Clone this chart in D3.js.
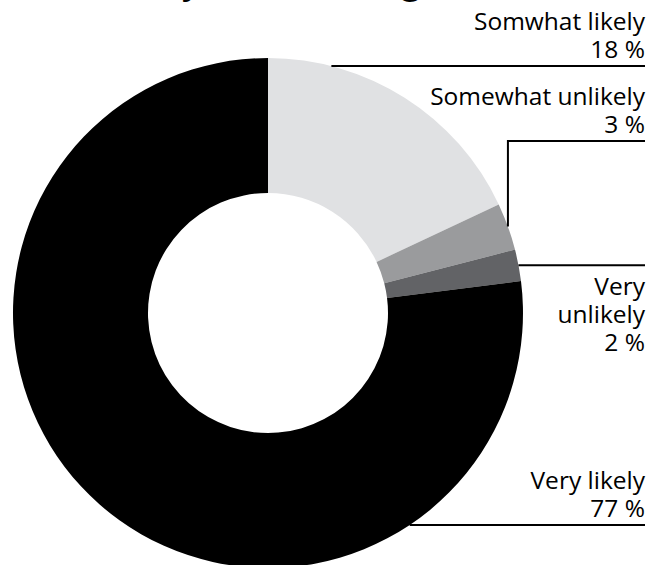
<!DOCTYPE html>
<html>
  <head>
    <title>Donut</title>
    <script src="https://d3js.org/d3.v7.min.js"></script>
    <style>
      body { margin: 0; background: #ffffff; }
      text { font-family: "Open Sans", "Noto Sans", sans-serif; fill: #000000; }
    </style>
  </head>
  <body>
    <svg width="665" height="565" id="mainsvg"></svg>
    <script>
        // data
        const categories = ['Somwhat likely', 'Somewhat unlikely', 'Very unlikely', 'Very likely'];
        const values = [18, 3, 2, 77];
        const labelLines = [['Somwhat likely', '18 %'], ['Somewhat unlikely', '3 %'], ['Very', 'unlikely', '2 %'], ['Very likely', '77 %']];
        const titleText = 'Survey on returning';

        // layout
        const svg = d3.select('#mainsvg');
        const cx = 268, cy = 313;
        const outerR = 255, innerR = 120;
        const labelRight = 645;
        const lineH = 28;
        const colors = ['#e0e1e3', '#9a9b9d', '#626366', '#000000'];
        // y of each leader line, mode of leader, text above or below it
        const leaders = [
            {y: 66, mode: 'arc', below: false},
            {y: 141, mode: 'elbow', below: false},
            {y: null, mode: 'arc', below: true},
            {y: 525, mode: 'arc', below: false}
        ];

        // title sits mostly above the top edge, only descenders show
        svg.append('text')
            .attr('x', 88)
            .attr('y', -7)
            .attr('font-size', 36)
            .text(titleText);

        const pie = d3.pie().sort(null).value(d => d.value);
        const arc = d3.arc().innerRadius(innerR).outerRadius(outerR);
        const data = categories.map((c, i) => ({name: c, value: values[i]}));
        const arcs = pie(data);

        const g = svg.append('g').attr('transform', `translate(${cx}, ${cy})`);
        g.selectAll('path').data(arcs).join('path')
            .attr('d', arc)
            .attr('fill', (d, i) => colors[i]);

        // leader lines and labels
        arcs.forEach((d, i) => {
            const L = leaders[i];
            const mid = (d.startAngle + d.endAngle) / 2;
            const px = cx + outerR * Math.sin(mid);
            const py = cy - outerR * Math.cos(mid);
            const ly = L.y === null ? py : L.y;
            let pts;
            if (L.mode === 'elbow') {
                pts = [[px, py], [px, ly], [labelRight, ly]];
            } else {
                const sx = cx + Math.sqrt(outerR * outerR - (ly - cy) * (ly - cy));
                pts = [[sx, ly], [labelRight, ly]];
            }
            svg.append('path')
                .attr('d', d3.line()(pts))
                .attr('fill', 'none')
                .attr('stroke', '#000000')
                .attr('stroke-width', 2);

            const lines = labelLines[i];
            lines.forEach((t, j) => {
                const y = L.below ? ly + 30 + j * lineH : ly - 8 - (lines.length - 1 - j) * lineH;
                svg.append('text')
                    .attr('x', labelRight)
                    .attr('y', y)
                    .attr('text-anchor', 'end')
                    .attr('font-size', 24.5)
                    .text(t);
            });
        });
    </script>
  </body>
</html>
